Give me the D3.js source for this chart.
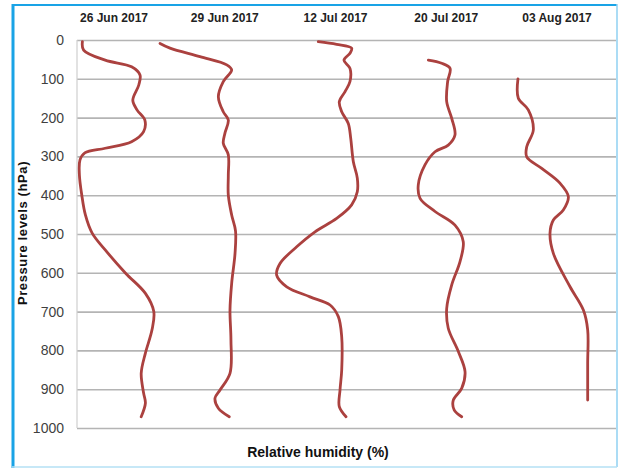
<!DOCTYPE html>
<html>
<head>
<meta charset="utf-8">
<script src="https://cdn.jsdelivr.net/npm/d3@7"></script>
<style>
  html, body { margin: 0; padding: 0; background: #fff; }
  svg { display: block; }
</style>
</head>
<body>
<svg id="chart" width="618" height="468"></svg>
<script>
// Sounding dates, one profile column per date
const dates = ["26 Jun 2017", "29 Jun 2017", "12 Jul 2017", "20 Jul 2017", "03 Aug 2017"];

// Pressure axis ticks (hPa)
const pressureTicks = [0, 100, 200, 300, 400, 500, 600, 700, 800, 900, 1000];

// Relative humidity profiles: [pressure hPa, RH %]
const rh26Jun = [[4,32],[26,33],[52,51],[69,73],[90,80],[116,79],[155,74],[180,77.5],[206,84],[236,83],[262,73],[279,51],[291,34],[309,30],[348,29.5],[400,31.5],[451,34.5],[497,40],[541,51],[601,68],[653,84.5],[700,91.5],[747,90],[807,84.5],[859,81],[910,83],[936,84.5],[971,81]];
const rh29Jun = [[9,4.4],[21,12.7],[43,37.7],[64,60],[77,64.1],[107,57.1],[146,53],[185,57.1],[206,61.3],[240,58.5],[266,57.1],[296,61.3],[348,61.3],[400,61.3],[451,64.1],[492,67.3],[550,66.9],[627,64.1],[696,62.7],[773,63.5],[859,62.7],[902,54.4],[923,50.2],[949,53],[971,62.1]];
const rh12Jul = [[4,44],[11,59.3],[21,71.8],[34,70.4],[52,65.4],[73,70.4],[107,70.4],[133,66.3],[159,61.5],[185,63.5],[215,69],[253,71],[314,73.2],[356,76.5],[391,76.5],[425,71.8],[460,59.3],[495,41],[533,26],[576,12.1],[606,9.3],[636,17.7],[662,37.1],[683,53.8],[713,60.7],[765,63.5],[851,63.5],[902,62.1],[945,61.5],[971,67.1]];
const rh20Jul = [[52,43.4],[60,54.5],[73,61.5],[107,59.5],[159,58.7],[202,62.9],[245,65.6],[271,60],[288,49],[322,40.6],[374,35],[408,36.5],[442,49],[477,65.6],[520,72.5],[571,69.8],[631,62.9],[692,58.7],[743,60],[803,68.4],[855,74],[898,71.2],[928,64.2],[954,65],[971,71.2]];
const rh03Aug = [[100,25.8],[150,26.1],[180,34.4],[232,38.6],[275,33.1],[301,33.1],[331,45.6],[369,60.8],[404,67.8],[438,63.6],[464,55.3],[498,52.5],[550,55.3],[636,69.2],[696,80.3],[747,83.9],[833,83.9],[928,83.9]];

const profiles = [rh26Jun, rh29Jun, rh12Jul, rh20Jul, rh03Aug];

const svg = d3.select("#chart");

// Plot frame
const plot = { left: 77, right: 616, top: 40, bottom: 428 };

const y = d3.scaleLinear().domain([0, 1000]).range([plot.top, plot.bottom]);

// Each date gets a column centre; RH is drawn as an offset around it
const col = d3.scalePoint().domain(dates).range([114, 557]);
const rhOffset = d3.scaleLinear().domain([0, 100]).range([-70, 50]);

// Outer frame
const frame = svg.append("g");
frame.append("line").attr("x1", 13).attr("x2", 13).attr("y1", 4).attr("y2", 468)
  .attr("stroke", "#19a3e6").attr("stroke-width", 3);
frame.append("line").attr("x1", 12).attr("x2", 617).attr("y1", 5).attr("y2", 5)
  .attr("stroke", "#19a3e6").attr("stroke-width", 2);
frame.append("line").attr("x1", 617).attr("x2", 617).attr("y1", 4).attr("y2", 467)
  .attr("stroke", "#8fd0f2").attr("stroke-width", 1.5);
frame.append("line").attr("x1", 12).attr("x2", 617).attr("y1", 467).attr("y2", 467)
  .attr("stroke", "#b5e0f5").attr("stroke-width", 1.5);

// Horizontal gridlines + tick labels via the axis generator
const yAxis = d3.axisLeft(y)
  .tickValues(pressureTicks)
  .tickSize(-(plot.right - plot.left))
  .tickPadding(13)
  .tickFormat(d3.format("d"));

const gy = svg.append("g")
  .attr("transform", `translate(${plot.left},0)`)
  .call(yAxis);
gy.select(".domain").remove();
gy.selectAll(".tick line")
  .attr("stroke", "#b4b4b4")
  .attr("stroke-width", 1.6);
gy.selectAll(".tick text")
  .attr("fill", "#3f3f3f")
  .style("font-family", "'Liberation Sans Narrow', 'Liberation Sans', Arial, sans-serif")
  .style("font-size", "14px");

// Vertical axis line
svg.append("line")
  .attr("x1", plot.left).attr("x2", plot.left)
  .attr("y1", y(0)).attr("y2", y(1000))
  .attr("stroke", "#cfcfcf").attr("stroke-width", 1.2);

// Column headers
svg.append("g").selectAll("text")
  .data(dates)
  .join("text")
  .attr("x", d => col(d))
  .attr("y", 22)
  .attr("text-anchor", "middle")
  .attr("fill", "#222")
  .style("font-family", "'Liberation Sans Narrow', 'Liberation Sans', Arial, sans-serif")
  .style("font-weight", "bold")
  .style("font-size", "12px")
  .text(d => d);

// Profiles: smooth centripetal Catmull-Rom through each sounding level
const line = d3.line()
  .curve(d3.curveCatmullRom.alpha(0.5));

svg.append("g").selectAll("path")
  .data(profiles)
  .join("path")
  .attr("d", (pts, i) => line(pts.map(([p, rh]) => [col(dates[i]) + rhOffset(rh), y(p)])))
  .attr("fill", "none")
  .attr("stroke", "#ab413f")
  .attr("stroke-width", 2.8)
  .attr("stroke-linecap", "round")
  .attr("stroke-linejoin", "round");

// Axis titles
svg.append("text")
  .attr("x", 318).attr("y", 457)
  .attr("text-anchor", "middle")
  .attr("fill", "#111")
  .style("font-family", "'Liberation Sans Narrow', 'Liberation Sans', Arial, sans-serif")
  .style("font-weight", "bold")
  .style("font-size", "14px")
  .text("Relative humidity (%)");

svg.append("text")
  .attr("transform", "translate(27,233) rotate(-90)")
  .attr("text-anchor", "middle")
  .attr("fill", "#111")
  .style("font-family", "'Liberation Sans', Arial, sans-serif")
  .style("font-weight", "bold")
  .style("font-size", "13px")
  .style("letter-spacing", "0.6px")
  .text("Pressure levels (hPa)");
</script>
</body>
</html>
